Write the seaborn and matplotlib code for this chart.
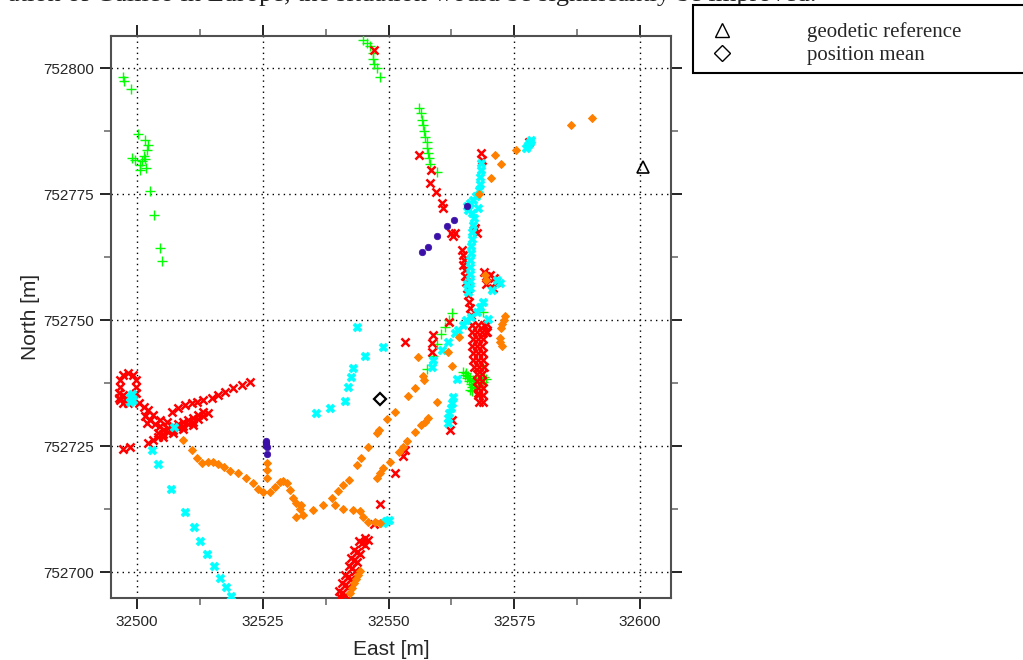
import matplotlib
matplotlib.use("Agg")
import matplotlib.pyplot as plt
from matplotlib.ticker import MultipleLocator, FormatStrFormatter
from matplotlib.lines import Line2D
from matplotlib.patches import Rectangle
import pandas as pd
import seaborn as sns

# positions, (east, north) in metres
green_pts = [
    (32497.2, 752798.3), (32497.4, 752797.5), (32498.9, 752795.8), (32500.1, 752787.0),
    (32501.5, 752785.7), (32502.2, 752784.7), (32502.0, 752783.7), (32501.3, 752782.6),
    (32501.5, 752781.9), (32499.1, 752782.1), (32499.6, 752781.7), (32500.9, 752781.6),
    (32500.6, 752780.8), (32501.8, 752780.1), (32500.6, 752779.8), (32502.6, 752775.6),
    (32503.4, 752770.8), (32504.6, 752764.3), (32505.0, 752761.7),
    (32544.9, 752805.6), (32545.7, 752805.0), (32546.3, 752804.4), (32546.9, 752803.0),
    (32546.9, 752801.8), (32547.1, 752800.8), (32547.7, 752800.0), (32548.3, 752798.2),
    (32556.1, 752792.1), (32556.4, 752791.1), (32556.7, 752789.7), (32556.9, 752788.7),
    (32557.1, 752787.5), (32557.3, 752786.3), (32557.6, 752785.3), (32557.7, 752784.1),
    (32557.9, 752783.1), (32558.1, 752782.1), (32558.2, 752781.0), (32559.6, 752779.4),
    (32562.6, 752751.3), (32562.1, 752750.1), (32561.2, 752748.6), (32560.4, 752747.2),
    (32559.6, 752745.2), (32558.9, 752742.9), (32557.6, 752740.2), (32568.7, 752751.6),
    (32568.5, 752741.1),
    (32564.8, 752739.7), (32565.2, 752739.1), (32565.6, 752738.5), (32566.0, 752737.9),
    (32566.4, 752737.3), (32566.6, 752736.7), (32567.0, 752737.1), (32566.2, 752738.5),
    (32565.4, 752739.5), (32565.8, 752738.9), (32566.8, 752738.1), (32567.4, 752738.3),
    (32568.2, 752738.5), (32569.0, 752738.7), (32569.4, 752738.3), (32568.8, 752737.7),
    (32567.8, 752737.5), (32566.2, 752736.1), (32566.6, 752735.9), (32567.2, 752736.5),
]

red_pts = [
    (32547.1, 752803.6),
    (32556.1, 752782.7), (32558.4, 752779.8), (32558.2, 752777.1), (32559.4, 752775.5),
    (32560.7, 752773.2), (32560.8, 752772.2), (32562.4, 752767.2), (32562.9, 752766.7),
    (32563.2, 752767.3), (32568.4, 752783.1), (32568.6, 752781.7), (32567.2, 752768.2),
    (32567.5, 752767.2), (32567.0, 752767.8), (32578.0, 752785.4),
    (32564.6, 752763.9), (32564.8, 752762.9), (32565.0, 752761.9), (32564.8, 752760.9),
    (32565.2, 752759.9), (32565.2, 752758.7), (32565.4, 752757.5), (32565.6, 752756.4),
    (32565.8, 752755.0), (32566.0, 752753.6), (32566.2, 752752.4), (32566.4, 752751.0),
    (32569.0, 752759.5), (32569.4, 752758.7), (32570.2, 752758.9), (32571.0, 752758.3),
    (32571.4, 752757.5), (32569.4, 752757.1), (32570.8, 752756.4),
    (32569.6, 752749.3), (32569.4, 752747.7),
    (32566.6, 752749.0), (32567.8, 752749.0), (32569.0, 752749.0),
    (32566.6, 752747.6), (32567.6, 752747.6), (32568.6, 752747.6), (32569.6, 752747.6),
    (32566.8, 752746.2), (32567.8, 752746.2), (32568.8, 752746.2),
    (32566.6, 752744.8), (32567.6, 752744.8), (32568.6, 752744.8),
    (32566.8, 752743.5), (32567.8, 752743.5), (32568.8, 752743.5),
    (32566.8, 752742.1), (32567.8, 752742.1), (32568.8, 752742.1),
    (32567.0, 752740.7), (32568.0, 752740.7), (32569.0, 752740.7),
    (32567.6, 752739.3), (32568.6, 752739.3), (32567.6, 752737.9), (32568.6, 752737.9),
    (32567.8, 752736.5), (32568.8, 752736.5), (32567.8, 752735.1), (32568.8, 752735.1),
    (32568.0, 752733.7), (32568.8, 752733.7),
    (32562.1, 752749.7), (32558.8, 752747.0), (32558.6, 752745.4), (32558.6, 752743.7),
    (32553.3, 752745.7), (32562.2, 752728.2), (32562.6, 752730.2), (32567.8, 752735.5),
    (32547.2, 752709.5), (32548.3, 752713.5), (32551.2, 752719.6), (32552.8, 752723.0),
    (32553.3, 752724.2),
    (32540.7, 752695.8), (32541.4, 752697.4), (32542.0, 752699.1), (32542.7, 752700.7),
    (32543.1, 752702.4), (32543.8, 752704.0), (32544.7, 752705.7), (32545.3, 752706.7),
    (32540.1, 752696.2), (32540.8, 752697.8), (32541.4, 752699.5), (32542.1, 752701.1),
    (32542.5, 752702.8), (32543.2, 752704.4), (32544.1, 752706.1), (32540.4, 752695.0),
    (32541.3, 752695.4), (32542.0, 752697.0), (32542.6, 752698.7), (32543.3, 752700.3),
    (32543.7, 752702.0), (32544.4, 752703.6), (32545.3, 752705.3), (32545.9, 752706.3),
    (32496.6, 752738.1), (32497.3, 752739.1), (32498.3, 752739.4), (32499.3, 752739.1),
    (32499.8, 752738.1), (32499.9, 752736.8), (32499.8, 752735.5), (32499.3, 752734.1),
    (32498.3, 752733.5), (32497.3, 752733.5), (32496.6, 752734.1), (32496.5, 752735.5),
    (32496.6, 752736.8), (32497.2, 752735.1), (32497.6, 752734.3), (32496.4, 752734.6),
    (32500.3, 752733.5), (32501.3, 752732.8), (32502.2, 752732.1), (32503.2, 752731.2),
    (32504.6, 752730.2), (32505.9, 752729.8),
    (32501.6, 752731.0), (32502.6, 752730.2), (32503.6, 752729.4), (32504.6, 752729.0),
    (32502.0, 752729.6),
    (32502.2, 752725.6), (32503.2, 752726.2), (32504.2, 752726.8), (32505.2, 752727.4),
    (32506.2, 752727.8), (32507.2, 752728.2), (32508.2, 752728.6), (32509.1, 752729.0),
    (32510.1, 752729.4), (32511.1, 752729.8), (32512.1, 752730.4), (32513.1, 752731.0),
    (32514.1, 752731.6),
    (32504.2, 752727.6), (32505.2, 752728.2), (32506.2, 752728.6), (32507.2, 752729.0),
    (32508.2, 752729.4), (32509.1, 752729.8), (32510.1, 752730.2), (32511.1, 752730.6),
    (32512.1, 752731.2), (32513.1, 752731.8),
    (32505.2, 752726.7), (32507.2, 752727.5), (32509.1, 752728.3), (32511.1, 752729.1),
    (32506.9, 752731.8), (32508.2, 752732.5), (32509.5, 752733.1), (32510.9, 752733.5),
    (32511.9, 752733.8), (32513.2, 752734.1), (32514.9, 752734.6), (32516.2, 752735.1),
    (32517.5, 752735.8), (32519.1, 752736.5), (32520.8, 752737.1), (32522.5, 752737.8),
    (32497.3, 752724.5), (32498.7, 752724.9),
]

cyan_pts = [
    (32577.3, 752784.1), (32577.7, 752784.7), (32578.1, 752785.3), (32578.3, 752785.7),
    (32568.4, 752781.2), (32568.4, 752779.8), (32568.2, 752778.4), (32568.2, 752777.0),
    (32568.0, 752775.8), (32567.4, 752774.6), (32566.8, 752773.8), (32566.2, 752773.2),
    (32565.6, 752772.6), (32565.8, 752771.8), (32566.6, 752771.2), (32567.8, 752772.2),
    (32567.0, 752770.2), (32566.8, 752768.9), (32566.6, 752767.5), (32566.6, 752766.1),
    (32566.4, 752764.7), (32566.4, 752763.3), (32566.2, 752761.9), (32566.2, 752760.5),
    (32566.2, 752759.1), (32566.2, 752757.7), (32566.2, 752756.4),
    (32565.6, 752757.1), (32565.8, 752755.6), (32568.7, 752753.6), (32568.2, 752752.6),
    (32567.5, 752751.6), (32566.5, 752750.7), (32565.5, 752750.0), (32564.9, 752749.0),
    (32563.9, 752748.0), (32563.2, 752747.4), (32571.5, 752758.0), (32572.2, 752757.3),
    (32570.5, 752756.0), (32569.8, 752750.3), (32561.9, 752745.7), (32560.6, 752744.1),
    (32558.9, 752742.1), (32558.6, 752740.6), (32563.6, 752738.2), (32562.9, 752734.8),
    (32562.7, 752733.5), (32562.4, 752732.5), (32562.1, 752731.5), (32561.9, 752730.5),
    (32561.8, 752729.5),
    (32549.0, 752744.6), (32545.3, 752742.9), (32543.0, 752740.4), (32542.5, 752738.6),
    (32542.0, 752736.7), (32541.4, 752734.0), (32538.4, 752732.5), (32535.6, 752731.6),
    (32543.7, 752748.6),
    (32503.0, 752724.2), (32504.2, 752721.4), (32506.7, 752716.5), (32509.5, 752712.0),
    (32511.3, 752709.0), (32512.5, 752706.2), (32513.9, 752703.6), (32515.3, 752701.1),
    (32516.6, 752698.8), (32517.7, 752697.0), (32518.6, 752695.2),
    (32498.6, 752734.7), (32499.2, 752734.1), (32498.6, 752733.7), (32499.0, 752735.3),
    (32507.4, 752728.8),
    (32549.6, 752710.2), (32549.0, 752709.7), (32550.1, 752710.3),
]

orange_pts = [
    (32590.4, 752790.1), (32586.3, 752788.7), (32575.3, 752783.8), (32571.1, 752782.7),
    (32572.4, 752781.0), (32570.3, 752778.1), (32567.9, 752775.0),
    (32573.2, 752750.8), (32572.9, 752750.0), (32572.6, 752749.2), (32572.3, 752748.4),
    (32572.1, 752746.4), (32572.2, 752745.6), (32572.5, 752744.8),
    (32569.2, 752758.9), (32569.4, 752758.0),
    (32564.0, 752746.6), (32561.8, 752743.7), (32562.6, 752740.9),
    (32553.9, 752735.0), (32555.3, 752736.5), (32556.9, 752738.8), (32557.1, 752738.1),
    (32555.9, 752742.7),
    (32547.7, 752718.6), (32548.3, 752719.6), (32549.0, 752720.6), (32550.3, 752721.9),
    (32552.0, 752723.9), (32552.9, 752724.9), (32553.6, 752725.9), (32555.3, 752727.8),
    (32556.4, 752729.2), (32557.3, 752729.8), (32557.9, 752730.5), (32559.6, 752733.8),
    (32540.0, 752716.1), (32541.0, 752717.3), (32542.2, 752718.3), (32543.8, 752721.2),
    (32544.5, 752722.7), (32546.0, 752724.9), (32547.7, 752727.5), (32548.2, 752728.2),
    (32549.8, 752730.4), (32551.3, 752731.7),
    (32509.1, 752726.2), (32511.0, 752724.2), (32511.9, 752722.6), (32512.9, 752721.6),
    (32514.2, 752721.9), (32515.2, 752721.9), (32516.2, 752721.4), (32517.2, 752720.9),
    (32518.5, 752720.1), (32520.1, 752719.6), (32521.7, 752718.6), (32523.1, 752717.6),
    (32524.1, 752716.5), (32525.1, 752715.9), (32526.4, 752715.9), (32527.4, 752716.9),
    (32528.4, 752717.9), (32529.1, 752718.1), (32529.8, 752717.6), (32530.4, 752716.3),
    (32531.1, 752714.6), (32531.7, 752713.6), (32532.7, 752713.3), (32532.4, 752712.6),
    (32531.7, 752711.0), (32533.1, 752711.3), (32535.0, 752712.3), (32537.0, 752713.3),
    (32538.7, 752714.6), (32539.4, 752713.3), (32541.0, 752712.6), (32543.0, 752712.3),
    (32544.3, 752712.2), (32545.0, 752711.0), (32546.0, 752710.0), (32547.3, 752710.0),
    (32548.3, 752709.7),
    (32525.8, 752721.6), (32525.8, 752720.2), (32525.8, 752718.6),
    (32542.3, 752695.8), (32542.7, 752696.8), (32543.1, 752697.8), (32543.5, 752698.6),
    (32543.9, 752699.4), (32544.3, 752700.2),
]

blue_pts = [
    (32565.7, 752772.6), (32563.0, 752769.8), (32561.6, 752768.7), (32559.7, 752766.7),
    (32557.8, 752764.5), (32556.7, 752763.4),
    (32525.7, 752726.0), (32525.7, 752725.6), (32525.7, 752725.2), (32525.8, 752724.8),
    (32525.8, 752723.4),
]

geodetic_ref = (32600.5, 752780.4)
position_mean = (32548.3, 752734.3)

sns.set_style('ticks')
plt.rcParams['font.family'] = ['Liberation Sans', 'DejaVu Sans']

fig = plt.figure(figsize=(10.23, 6.6), dpi=100)
ax = fig.add_axes([0.1085, 0.0939, 0.5474, 0.8515])

series = [
    (green_pts, '+', '#00ff00', 45, 1.0),
    (red_pts, 'x', '#ff0000', 34, 1.8),
    (cyan_pts, 'X', '#00ffff', 40, 0.5),
    (orange_pts, 'D', '#ff8000', 16, 0.8),
    (blue_pts, 'o', '#3a10a8', 22, 0.5),
]
for pts, marker, color, size, lw in series:
    df = pd.DataFrame(pts, columns=['east', 'north'])
    sns.scatterplot(data=df, x='east', y='north', marker=marker, color=color,
                    edgecolor=color, s=size, linewidth=lw, ax=ax, legend=False, zorder=3)

ax.plot(*geodetic_ref, marker='^', ls='none', mfc='none', mec='black', ms=8, mew=1.2, zorder=4)
ax.plot(*position_mean, marker='D', ls='none', mfc='none', mec='black', ms=6, mew=1.6, zorder=4)

ax.set_xlim(32494.83, 32606.16)
ax.set_ylim(752694.84, 752806.35)

for axis in (ax.xaxis, ax.yaxis):
    axis.set_major_locator(MultipleLocator(25))
    axis.set_minor_locator(MultipleLocator(12.5))
    axis.set_major_formatter(FormatStrFormatter('%d'))

ax.tick_params(which='both', direction='out', top=True, right=True)
ax.tick_params(which='major', length=8, width=1.2, color='black', labelsize=11, pad=4)
ax.tick_params(which='minor', length=5, width=1.2, color='#707070')
ax.grid(True, which='major', linestyle=(0, (1, 3)), color='black', linewidth=1)
ax.set_axisbelow(True)
for sp in ax.spines.values():
    sp.set_color('#505050')
    sp.set_linewidth(1.5)

ax.set_xlabel('East [m]', fontsize=15, labelpad=8)
ax.set_ylabel('North [m]', fontsize=15, labelpad=2.5)

# cropped page text above the chart, only its lower part shows
fig.text(0.008, 1 - 0.5 / 660, 'ation of Galileo in Europe, the situation would be significantly be improved.',
         family='Liberation Serif', fontsize=19, va='baseline', ha='left', color='#222222')

# legend box runs past the right edge of the page
fig.add_artist(Rectangle((693 / 1023, 1 - 73 / 660), 0.4, 68 / 660, transform=fig.transFigure,
                         facecolor='white', edgecolor='black', linewidth=1.5, zorder=9))

handles = [
    Line2D([], [], marker='^', ls='none', mfc='none', mec='black', ms=10, mew=1),
    Line2D([], [], marker='D', ls='none', mfc='none', mec='black', ms=8, mew=1),
]
leg = fig.legend(handles, ['geodetic reference', 'position mean'], loc='upper left',
                 bbox_to_anchor=(693 / 1023, 1 - 8 / 660), frameon=False,
                 borderaxespad=0, borderpad=0.7, handlelength=1.4, handletextpad=3.35,
                 labelspacing=0.15, prop={'family': 'Liberation Serif', 'size': 15})
leg.set_zorder(10)

fig.savefig('out.png', dpi=100)
